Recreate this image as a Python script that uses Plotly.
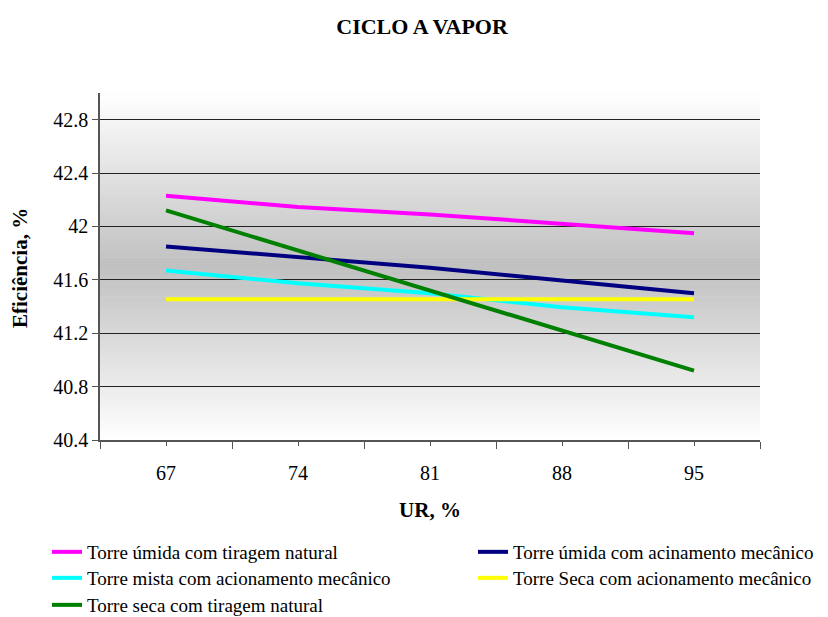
import plotly.graph_objects as go

# Relative humidity categories (UR, %)
ur = ["67", "74", "81", "88", "95"]

# Cycle efficiency (%) per cooling-tower type
umida_natural = [42.23, 42.145, 42.09, 42.02, 41.95]
umida_mecanico = [41.85, 41.77, 41.69, 41.595, 41.50]
mista_mecanico = [41.67, 41.575, 41.50, 41.395, 41.32]
seca_mecanico = [41.455, 41.455, 41.455, 41.455, 41.455]
seca_natural = [42.12, 41.82, 41.52, 41.22, 40.92]

# (name, values, colour, legend id, legend left px, legend row centre px)
series = [
    ("Torre úmida com tiragem natural", umida_natural, "#FF00FF", "legend", 47, 552),
    ("Torre úmida com acinamento mecânico", umida_mecanico, "#000080", "legend2", 473, 552),
    ("Torre mista com acionamento mecânico", mista_mecanico, "#00FFFF", "legend3", 47, 578),
    ("Torre Seca com acionamento mecânico", seca_mecanico, "#FFFF00", "legend4", 473, 578),
    ("Torre seca com tiragem natural", seca_natural, "#008000", "legend5", 47, 605),
]

y_ticks = [40.4, 40.8, 41.2, 41.6, 42.0, 42.4, 42.8]
y_tick_text = ["40.4", "40.8", "41.2", "41.6", "42", "42.4", "42.8"]

FONT = "Liberation Serif, Times New Roman, serif"
W, H = 828, 617

fig = go.Figure()
xpos = list(range(len(ur)))
legends = {}
for name, vals, color, leg, lx, ly in series:
    fig.add_trace(go.Scatter(
        x=xpos, y=vals, name=name, mode="lines", showlegend=True,
        line=dict(color=color, width=4), legend=leg,
    ))
    legends[leg] = dict(
        orientation="v", xref="container", yref="container",
        x=lx / W, y=1 - ly / H, xanchor="left", yanchor="middle",
        font=dict(family=FONT, size=19), itemwidth=30,
        bgcolor="rgba(0,0,0,0)", borderwidth=0,
    )

# Vertical white-grey-white gradient behind the plot area
n = 80
shapes = []
for i in range(n):
    t = (i + 0.5) / n
    d = abs(t - 0.5) / 0.5
    g = int(round(192 + 63 * d))
    shapes.append(dict(
        type="rect", xref="x domain", yref="y domain",
        x0=0, x1=1, y0=i / n, y1=(i + 1) / n + 0.002,
        fillcolor=f"rgb({g},{g},{g})", line=dict(width=0), layer="below",
    ))

fig.update_layout(
    width=W, height=H,
    showlegend=True,
    margin=dict(l=100, r=68, t=93, b=177, autoexpand=False),
    paper_bgcolor="white",
    plot_bgcolor="white",
    shapes=shapes,
    font=dict(family=FONT, size=19, color="black"),
    title=dict(text="<b>CICLO A VAPOR</b>", x=0.488, xref="paper", xanchor="center",
               y=0.957, yanchor="middle", font=dict(family=FONT, size=22)),
    xaxis=dict(
        range=[-0.5, 4.5], tickvals=xpos, ticktext=ur,
        showgrid=False, zeroline=False,
        showline=True, linecolor="#555555", linewidth=1.5,
        ticks="outside", ticklen=4, tickcolor="#555555",
        minor=dict(tickmode="linear", tick0=-0.5, dtick=1, ticks="outside",
                   ticklen=7, tickcolor="#555555"),
        ticklabelstandoff=10,
        title=dict(text="<b>UR, %</b>", font=dict(family=FONT, size=21), standoff=20),
        tickfont=dict(family=FONT, size=20),
    ),
    yaxis=dict(
        range=[40.4, 43.0], tickvals=y_ticks, ticktext=y_tick_text,
        showgrid=True, gridcolor="#222222", gridwidth=1,
        zeroline=False,
        showline=True, linecolor="#555555", linewidth=1.5,
        ticks="outside", ticklen=6, tickcolor="#555555",
        tickfont=dict(family=FONT, size=20),
    ),
    annotations=[dict(
        text="<b>Eficiência, %</b>", textangle=-90,
        xref="paper", yref="paper", x=(20 - 100) / 660, y=(440 - 268) / 347,
        xanchor="center", yanchor="middle", showarrow=False,
        font=dict(family=FONT, size=21),
    )],
    **legends,
)

fig.write_html("out.html")
